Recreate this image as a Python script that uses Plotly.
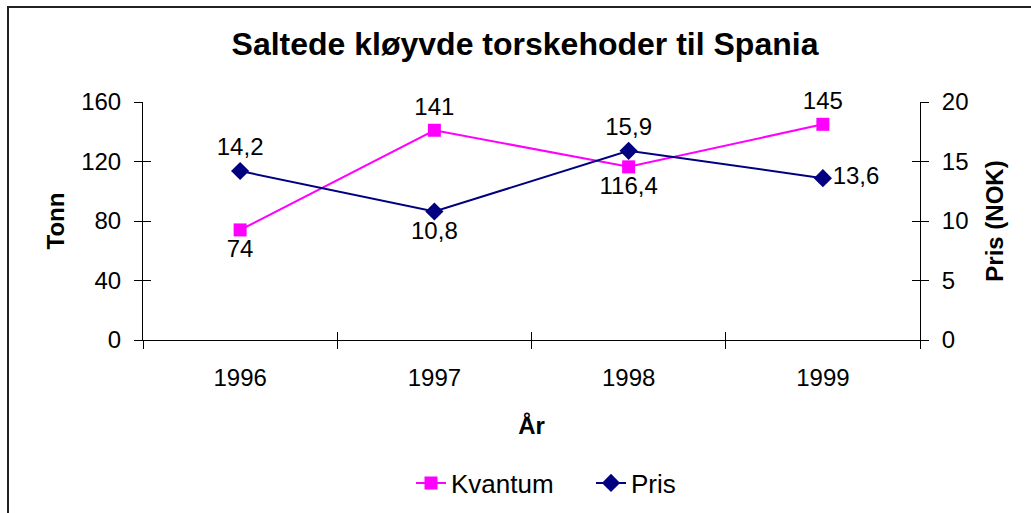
import plotly.graph_objects as go

years = ["1996", "1997", "1998", "1999"]
kvantum = [74, 141, 116.4, 145]
pris = [14.2, 10.8, 15.9, 13.6]
kvantum_pos = ["bottom center", "top center", "bottom center", "top center"]
pris_pos = ["top center", "bottom center", "top center", "middle right"]
left_ticks = [0, 40, 80, 120, 160]
right_ticks = [0, 5, 10, 15, 20]


def fmt(v):
    s = f"{v:g}"
    return s.replace(".", ",")


FONT = "Liberation Sans, Arial, sans-serif"
W, H = 1031, 513
L, R, T, B = 143, 920, 102, 340
pw, ph = R - L, B - T


def px(x):
    return (x - L) / pw


def py(y):
    return (B - y) / ph


fig = go.Figure()
fig.add_trace(go.Scatter(
    x=years, y=kvantum, name="Kvantum", mode="lines+markers+text",
    line=dict(color="#FF00FF", width=2),
    marker=dict(symbol="square", size=13, color="#FF00FF"),
    text=[fmt(v) for v in kvantum], textposition=kvantum_pos,
    textfont=dict(size=24, color="black", family=FONT),
    xaxis="x", yaxis="y", cliponaxis=False,
))
fig.add_trace(go.Scatter(
    x=years, y=pris, name="Pris", mode="lines+markers+text",
    line=dict(color="#000080", width=2),
    marker=dict(symbol="diamond", size=14, color="#000080"),
    text=[fmt(v) for v in pris], textposition=pris_pos,
    textfont=dict(size=24, color="black", family=FONT),
    xaxis="x", yaxis="y2", cliponaxis=False,
))

axis_common = dict(showgrid=False, zeroline=False, showline=True,
                   linecolor="black", linewidth=1, tickcolor="black",
                   tickwidth=1, ticklen=8, automargin=False,
                   tickfont=dict(size=24, color="black", family=FONT))
overlay_common = dict(showticklabels=False, showgrid=False, zeroline=False,
                      showline=False, ticklen=8, tickcolor="black",
                      tickwidth=1, automargin=False, ticks="inside")

fig.update_layout(
    width=W, height=H,
    margin=dict(l=L, r=W - R, t=T, b=H - B, autoexpand=False),
    paper_bgcolor="white", plot_bgcolor="white",
    font=dict(family=FONT, color="black"),
    showlegend=True,
    title=dict(text="<b>Saltede kløyvde torskehoder til Spania</b>",
               x=525 / W, xanchor="center", xref="container",
               y=1 - 44 / H, yanchor="middle", yref="container",
               font=dict(size=32, color="black", family=FONT),
               automargin=False),
    xaxis=dict(type="category", tickson="boundaries", ticks="outside",
               range=[-0.5, 3.5], ticklabelstandoff=16,
               title=dict(text="<b>År</b>", font=dict(size=24), standoff=27),
               **axis_common),
    xaxis2=dict(overlaying="x", anchor="y", range=[-0.5, 3.5],
                tickvals=[-0.5, 0.5, 1.5, 2.5, 3.5], side="bottom",
                **overlay_common),
    yaxis=dict(range=[0, 160], tickvals=left_ticks, ticks="outside",
               ticklabelstandoff=8,
               title=dict(text="<b>Tonn</b>", font=dict(size=24), standoff=9),
               **axis_common),
    yaxis2=dict(range=[0, 20], tickvals=right_ticks, ticks="outside",
                overlaying="y", side="right", anchor="x",
                ticklabelstandoff=8,
                title=dict(text="<b>Pris (NOK)</b>", font=dict(size=24), standoff=18),
                **axis_common),
    yaxis3=dict(range=[0, 160], tickvals=left_ticks, overlaying="y",
                side="left", anchor="x", **overlay_common),
    yaxis4=dict(range=[0, 20], tickvals=right_ticks, overlaying="y",
                side="right", anchor="x", **overlay_common),
    legend=dict(orientation="h", x=px(591), xanchor="center", y=py(483),
                yanchor="middle", font=dict(size=26, color="black"),
                entrywidth=135, entrywidthmode="pixels",
                bgcolor="rgba(0,0,0,0)"),
)

# invisible traces to activate overlay tick axes
fig.add_trace(go.Scatter(x=[0], y=[0], xaxis="x2", yaxis="y3", mode="markers",
                         marker=dict(opacity=0), showlegend=False, hoverinfo="skip"))
fig.add_trace(go.Scatter(x=[0], y=[0], xaxis="x2", yaxis="y4", mode="markers",
                         marker=dict(opacity=0), showlegend=False, hoverinfo="skip"))

# chart-area border (top and left visible)
fig.add_shape(type="rect", xref="paper", yref="paper",
              x0=px(8), x1=px(1036), y0=py(530), y1=py(7),
              line=dict(color="#222222", width=2), layer="below")

fig.write_html("out.html", config={"displayModeBar": False},
               post_script="document.body.style.margin='0';"
                           "document.body.style.overflow='hidden';")
